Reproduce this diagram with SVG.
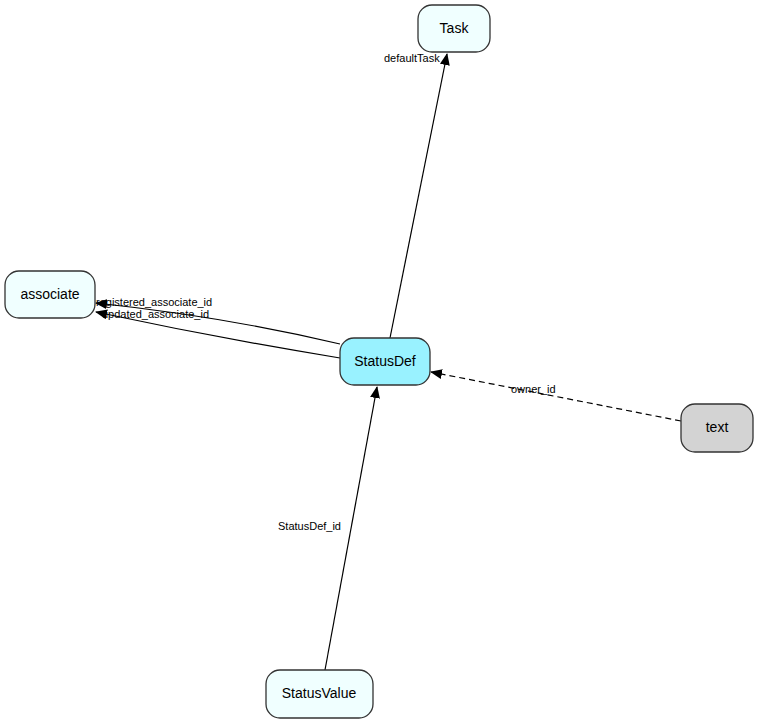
<svg xmlns="http://www.w3.org/2000/svg" width="759" height="724" viewBox="0 0 759 724">
<style>
.n rect{stroke:#333;stroke-width:1.3}
.n text{font-family:"Liberation Sans",Arial,sans-serif;font-size:14px;text-anchor:middle}
.e path{fill:none;stroke:#000;stroke-width:1.2}
.l{font-family:"Liberation Sans",Arial,sans-serif;font-size:11px}
</style>
<defs><marker id="a" markerWidth="12" markerHeight="10" refX="11" refY="5" orient="auto" markerUnits="userSpaceOnUse"><path d="M0,0L12,5L0,10z"/></marker></defs>
<rect width="759" height="724" fill="#fff"/>
<g class="e">
<path d="M390,338L447,54" marker-end="url(#a)"/>
<path d="M340,344C260,325 180,312 96,303" marker-end="url(#a)"/>
<path d="M340,358C260,345 180,330 96,312" marker-end="url(#a)"/>
<path d="M681,421L431,372" stroke-dasharray="6,4" marker-end="url(#a)"/>
<path d="M325,670L377,387" marker-end="url(#a)"/>
<text class="l" x="384" y="62">defaultTask</text>
<text class="l" x="96" y="306">registered_associate_id</text>
<text class="l" x="102" y="318">updated_associate_id</text>
<text class="l" x="511" y="393">owner_id</text>
<text class="l" x="278" y="530">StatusDef_id</text>
</g>
<g id="Task" class="n"><rect x="418" y="5" width="72" height="47" rx="14" fill="#f0ffff"/><text x="454" y="33">Task</text></g>
<g id="associate" class="n"><rect x="5" y="271" width="90" height="47" rx="14" fill="#f0ffff"/><text x="50" y="299">associate</text></g>
<g id="StatusDef" class="n"><rect x="340" y="338" width="90" height="47" rx="14" fill="#99f2ff"/><text x="385" y="366">StatusDef</text></g>
<g id="text" class="n"><rect x="681" y="404" width="72" height="48" rx="14" fill="#d3d3d3"/><text x="717" y="432">text</text></g>
<g id="StatusValue" class="n"><rect x="266" y="670" width="107" height="48" rx="14" fill="#f0ffff"/><text x="319" y="698">StatusValue</text></g>
</svg>
